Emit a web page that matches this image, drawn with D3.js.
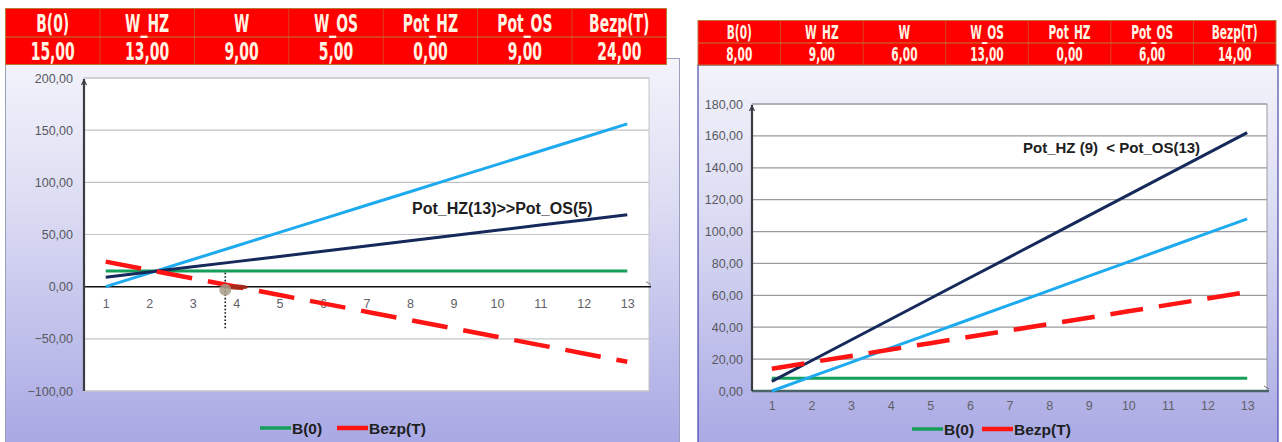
<!DOCTYPE html>
<html>
<head>
<meta charset="utf-8">
<script src="https://cdn.jsdelivr.net/npm/d3@7/dist/d3.min.js"></script>
<style>
  html, body { margin: 0; padding: 0; background: #ffffff; }
  svg { display: block; }
</style>
</head>
<body>
<svg id="chart" width="1282" height="442"></svg>
<script>
// Periods on the horizontal axis
const periods = [1, 2, 3, 4, 5, 6, 7, 8, 9, 10, 11, 12, 13];

// Parameter table
const paramNames = ["B(0)", "W_HZ", "W", "W_OS", "Pot_HZ", "Pot_OS", "Bezp(T)"];
const paramsA = [15, 13, 9, 5, 0, 9, 24];
const paramsB = [8, 9, 6, 13, 0, 6, 14];

// Scenario A series
const potHzA = [0, 13, 26, 39, 52, 65, 78, 91, 104, 117, 130, 143, 156];
const potOsA = [9, 14, 19, 24, 29, 34, 39, 44, 49, 54, 59, 64, 69];
const b0A = [15, 15, 15, 15, 15, 15, 15, 15, 15, 15, 15, 15, 15];
const bezpA = [24, 16, 8, 0, -8, -16, -24, -32, -40, -48, -56, -64, -72];

// Scenario B series
const potHzB = [0, 9, 18, 27, 36, 45, 54, 63, 72, 81, 90, 99, 108];
const potOsB = [6, 19, 32, 45, 58, 71, 84, 97, 110, 123, 136, 149, 162];
const b0B = [8, 8, 8, 8, 8, 8, 8, 8, 8, 8, 8, 8, 8];
const bezpB = [14, 18, 22, 26, 30, 34, 38, 42, 46, 50, 54, 58, 62];

// Axis ranges and ticks
const yTicksA = [-100, -50, 0, 50, 100, 150, 200];
const yTicksB = [0, 20, 40, 60, 80, 100, 120, 140, 160, 180];

// Annotations
const noteA = "Pot_HZ(13)>>Pot_OS(5)";
const noteB = "Pot_HZ (9)\u00a0\u00a0< Pot_OS(13)";
const legendNames = ["B(0)", "Bezp(T)"];

// Break-even marker in scenario A
const markerA = { t: 3.75, value: 0 };

const svg = d3.select("#chart");
const locale = d3.formatLocale({ decimal: ",", thousands: ".", grouping: [3], currency: ["", ""] });
const fmt = locale.format(".2f");

const COLORS = {
  hz: "#1eaaee",
  os: "#15295a",
  b0: "#14a05a",
  bezp: "#ff1414"
};

// Background gradient shared by both panels
const defs = svg.append("defs");
const grad = defs.append("linearGradient").attr("id", "panelBg")
  .attr("x1", 0).attr("y1", 0).attr("x2", 0).attr("y2", 1);
grad.append("stop").attr("offset", "0%").attr("stop-color", "#f3f3fb");
grad.append("stop").attr("offset", "35%").attr("stop-color", "#dedef4");
grad.append("stop").attr("offset", "100%").attr("stop-color", "#a7a7e4");

function drawTable(g, box, values, fontSize, sx) {
  const colW = box.w / paramNames.length;
  const rowH = [box.split - box.y, box.y + box.h - box.split];
  g.append("rect").attr("x", box.x).attr("y", box.y).attr("width", box.w).attr("height", box.h)
    .attr("fill", "#ff0000").attr("stroke", "#b87838").attr("stroke-width", 1);
  g.append("line").attr("x1", box.x).attr("x2", box.x + box.w)
    .attr("y1", box.split).attr("y2", box.split).attr("stroke", "#b87838").attr("stroke-width", 1);
  for (let i = 1; i < paramNames.length; i++) {
    g.append("line").attr("x1", box.x + i * colW).attr("x2", box.x + i * colW)
      .attr("y1", box.y).attr("y2", box.y + box.h).attr("stroke", "#b87838").attr("stroke-width", 0.8)
      .attr("stroke-opacity", 0.7);
  }
  const rows = [paramNames, values.map(v => fmt(v))];
  rows.forEach((row, r) => {
    const cy = r === 0 ? box.y + rowH[0] / 2 : box.split + rowH[1] / 2;
    row.forEach((txt, i) => {
      const cx = box.x + (i + 0.5) * colW;
      g.append("text")
        .attr("transform", `translate(${cx},${cy + 0.5}) scale(${sx},1)`)
        .attr("text-anchor", "middle").attr("dominant-baseline", "central")
        .attr("font-family", "'DejaVu Sans Condensed', 'DejaVu Sans', sans-serif")
        .attr("font-weight", "bold").attr("font-size", fontSize)
        .attr("fill", "#fff4e4")
        .text(txt);
    });
  });
}

function drawPanel(cfg) {
  const g = svg.append("g");
  // panel background
  g.append("rect").attr("x", cfg.panel.x).attr("y", cfg.panel.y)
    .attr("width", cfg.panel.w).attr("height", cfg.panel.h)
    .attr("fill", "url(#panelBg)").attr("stroke", cfg.panelStroke).attr("stroke-width", 1);

  drawTable(g, cfg.table, cfg.params, cfg.tableFont, cfg.tableSx);

  const p = cfg.plot;
  const x = d3.scalePoint().domain(periods).range([p.x, p.x + p.w]).padding(0.5);
  const xLin = d3.scaleLinear().domain([periods[0], periods[periods.length - 1]])
    .range([x(periods[0]), x(periods[periods.length - 1])]);
  const y = d3.scaleLinear().domain(cfg.yDomain).range([p.y + p.h, p.y]);

  // plot area
  g.append("rect").attr("x", p.x).attr("y", p.y).attr("width", p.w).attr("height", p.h)
    .attr("fill", "#ffffff").attr("stroke", cfg.gridColor).attr("stroke-width", 1);

  // gridlines
  g.append("g").selectAll("line").data(cfg.yTicks.filter(v => v !== 0))
    .join("line")
    .attr("x1", p.x).attr("x2", p.x + p.w)
    .attr("y1", d => y(d)).attr("y2", d => y(d))
    .attr("stroke", cfg.gridColor).attr("stroke-width", 1.2);

  // y axis labels
  const yAxis = d3.axisLeft(y).tickValues(cfg.yTicks).tickFormat(fmt).tickSize(0).tickPadding(cfg.yPad);
  const ya = g.append("g").attr("transform", `translate(${p.x},0)`).call(yAxis);
  ya.select(".domain").remove();
  ya.selectAll("text").attr("font-family", "'Liberation Sans', Arial, sans-serif")
    .attr("font-size", cfg.tickFont).attr("fill", "#58585e");

  // x axis labels
  const xAxis = d3.axisBottom(x).tickSize(0).tickPadding(0);
  const xa = g.append("g").attr("transform", `translate(0,${cfg.xLabelY})`).call(xAxis);
  xa.select(".domain").remove();
  xa.selectAll("text").attr("font-family", "'Liberation Sans', Arial, sans-serif")
    .attr("font-size", cfg.tickFont).attr("fill", "#606066").attr("dy", "0.35em");

  // baseline and vertical axis
  g.append("line").attr("x1", p.x).attr("x2", p.x + p.w + 2)
    .attr("y1", y(0)).attr("y2", y(0))
    .attr("stroke", cfg.baseColor).attr("stroke-width", cfg.baseWidth);
  g.append("line").attr("x1", p.x).attr("x2", p.x)
    .attr("y1", p.y + 1).attr("y2", p.y + p.h)
    .attr("stroke", "#3a3d44").attr("stroke-width", 2.2);
  // small arrow tips
  g.append("path")
    .attr("d", `M${p.x - 2.5},${p.y + 7} L${p.x},${p.y + 2} L${p.x + 2.5},${p.y + 7}`)
    .attr("fill", "none").attr("stroke", "#3a3d44").attr("stroke-width", 1.2);
  g.append("path")
    .attr("d", `M${p.x + p.w - 3},${y(0) - 5} L${p.x + p.w + 2},${y(0) - 2}`)
    .attr("fill", "none").attr("stroke", "#777").attr("stroke-width", 1);

  const line = d3.line().x((d, i) => x(periods[i])).y(d => y(d));
  const series = [
    { v: cfg.b0, c: COLORS.b0, w: 3.2 },
    { v: cfg.hz, c: COLORS.hz, w: 3 },
    { v: cfg.os, c: COLORS.os, w: 3 },
    { v: cfg.bezp, c: COLORS.bezp, w: 4.5, dash: cfg.dash }
  ];
  g.append("g").selectAll("path").data(series).join("path")
    .attr("d", d => line(d.v))
    .attr("fill", "none").attr("stroke", d => d.c).attr("stroke-width", d => d.w)
    .attr("stroke-dasharray", d => d.dash || null);

  if (cfg.marker) {
    const mx = xLin(cfg.marker.t), my = y(cfg.marker.value);
    g.append("line").attr("x1", mx).attr("x2", mx).attr("y1", my - 14).attr("y2", my + 42)
      .attr("stroke", "#111").attr("stroke-width", 1.6).attr("stroke-dasharray", "1.6,2");
    g.append("ellipse").attr("cx", mx + 12).attr("cy", my + 0.5).attr("rx", 11).attr("ry", 2.6)
      .attr("fill", "#9c2a1c").attr("opacity", 0.9);
    g.append("circle").attr("cx", mx).attr("cy", my + 3).attr("r", 6)
      .attr("fill", "#a89a86").attr("opacity", 0.85);
  }

  // annotation
  g.append("text").attr("x", cfg.note.x).attr("y", cfg.note.y)
    .attr("font-family", "'Liberation Sans', Arial, sans-serif").attr("font-weight", "bold")
    .attr("font-size", cfg.note.size).attr("fill", "#202020")
    .attr("dominant-baseline", "central")
    .text(cfg.note.text);

  // legend
  const lg = g.append("g");
  const items = [{ name: legendNames[0], c: COLORS.b0, x: cfg.legend.x0 },
                 { name: legendNames[1], c: COLORS.bezp, x: cfg.legend.x1 }];
  items.forEach(it => {
    lg.append("line").attr("x1", it.x).attr("x2", it.x + 31)
      .attr("y1", cfg.legend.y).attr("y2", cfg.legend.y)
      .attr("stroke", it.c).attr("stroke-width", it.c === COLORS.bezp ? 4.5 : 3.5);
    lg.append("text").attr("x", it.x + 32).attr("y", cfg.legend.y)
      .attr("dominant-baseline", "central")
      .attr("font-family", "'Liberation Sans', Arial, sans-serif").attr("font-weight", "bold")
      .attr("font-size", 15.5).attr("fill", "#202020").text(it.name);
  });
}

drawPanel({
  panel: { x: 5.5, y: 58.5, w: 674, h: 390 },
  panelStroke: "#9aa0bc",
  table: { x: 5.5, y: 8.5, w: 661, h: 56, split: 37 },
  params: paramsA, tableFont: 25, tableSx: 0.62,
  plot: { x: 84, y: 78, w: 565, h: 313 },
  yDomain: [-100, 200], yTicks: yTicksA, yPad: 11,
  xLabelY: 304, tickFont: 12.5,
  gridColor: "#c4c4c8", baseColor: "#111", baseWidth: 1.5,
  hz: potHzA, os: potOsA, b0: b0A, bezp: bezpA, dash: "36,16",
  marker: markerA,
  note: { x: 412, y: 208, size: 16, text: noteA },
  legend: { x0: 260, x1: 337, y: 428 }
});

drawPanel({
  panel: { x: 698, y: 65, w: 580, h: 390 },
  panelStroke: "#2a2a9a",
  table: { x: 698, y: 20.5, w: 578, h: 44.5, split: 43 },
  params: paramsB, tableFont: 19, tableSx: 0.62,
  plot: { x: 752, y: 104, w: 515, h: 287 },
  yDomain: [0, 180], yTicks: yTicksB, yPad: 9,
  xLabelY: 406, tickFont: 12.5,
  gridColor: "#9a9aa0", baseColor: "#4a6468", baseWidth: 2.6,
  hz: potHzB, os: potOsB, b0: b0B, bezp: bezpB, dash: "33,16",
  marker: null,
  note: { x: 1023, y: 147, size: 15, text: noteB },
  legend: { x0: 912, x1: 982, y: 429 }
});
</script>
</body>
</html>
